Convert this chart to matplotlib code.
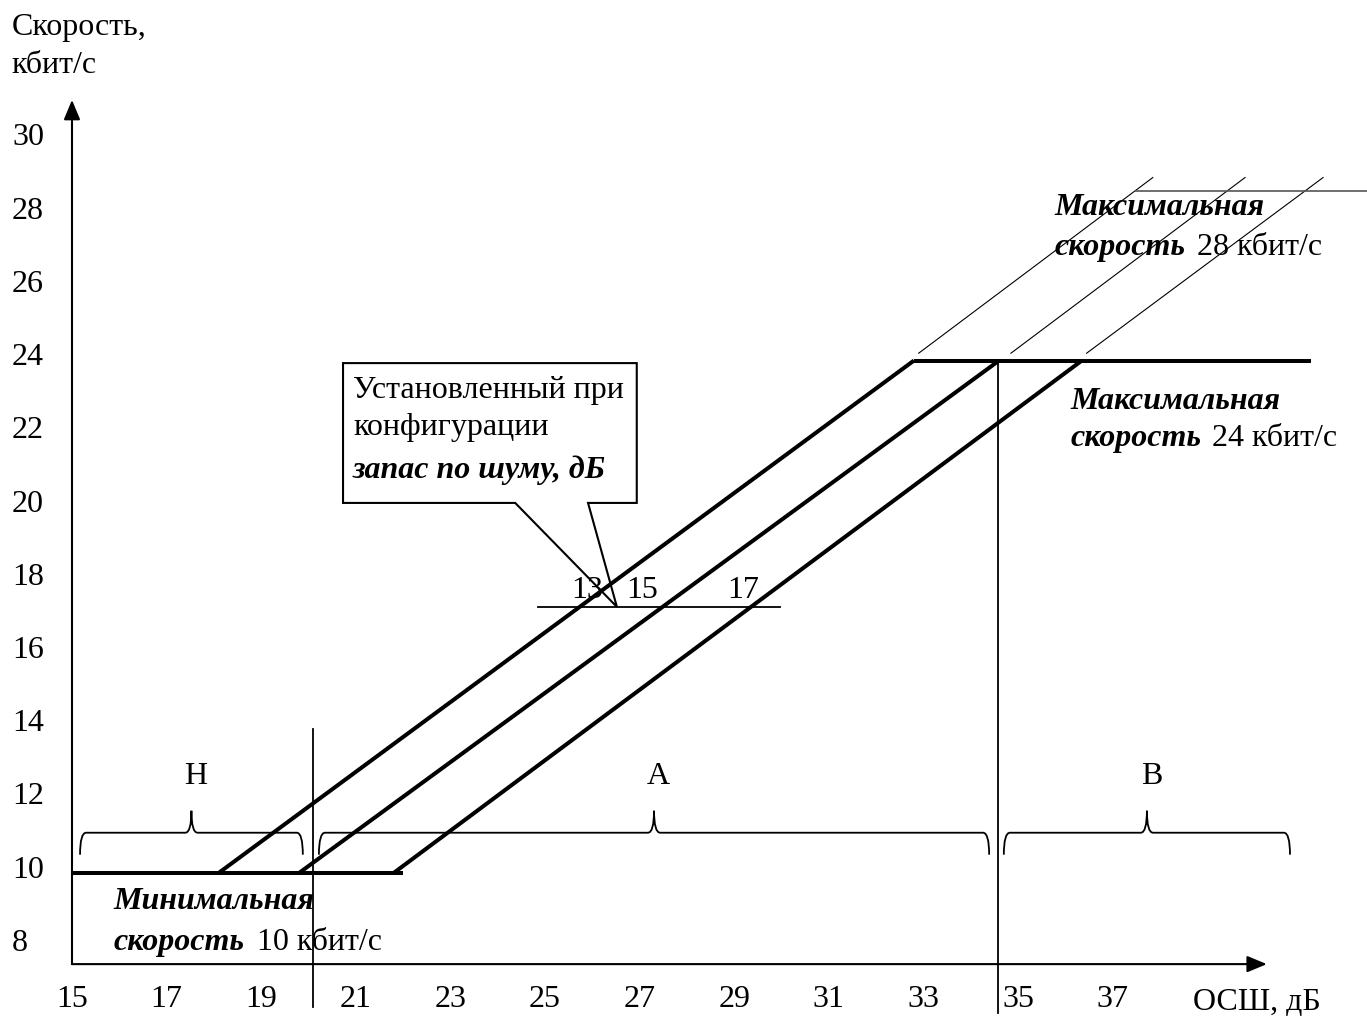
import matplotlib
matplotlib.use('Agg')
import matplotlib.pyplot as plt
from matplotlib.path import Path
from matplotlib.patches import PathPatch, Polygon
from matplotlib.transforms import blended_transform_factory

plt.rcParams['font.family'] = ['Liberation Serif', 'DejaVu Serif']
FS = 23

# axis ticks
snr_ticks = [15, 17, 19, 21, 23, 25, 27, 29, 31, 33, 35, 37]
rate_ticks = [8, 10, 12, 14, 16, 18, 20, 22, 24, 26, 28, 30]

# rate vs SNR for three noise margins
margins = [13, 15, 17]
knee_low = [18.1, 19.8, 21.8]      # SNR where rate starts rising
knee_high = [32.8, 34.6, 36.35]    # SNR where 24 kbit/s is reached
rate_min = 10
rate_max = 24
min_line_x = [15, 22.0]
max_line_x = [32.8, 41.2]

# thin extensions toward 28 kbit/s
ext_x0 = [32.9, 34.85, 36.45]
ext_x1 = [37.85, 39.8, 41.45]
ext_y0 = 24.2
ext_y1 = 29.0
cap_x = [37.5, 42.4]
cap_y = 28.63

# margin marker line
margin_line_x = [24.85, 29.97]
margin_line_y = 17.27
margin_label_x = [25.89, 27.05, 29.19]

# zones
zone_names = ['Н', 'А', 'В']
zone_left = [15.17, 20.22, 34.70]
zone_right = [19.88, 34.39, 40.75]

# callout box
box_x = [20.73, 26.94]
box_y = [20.11, 23.93]
ptr_base = [24.37, 25.91]
ptr_tip = (26.52, 17.27)

fig = plt.figure(figsize=(13.67, 10.21), dpi=100)
ax = fig.add_axes([0, 0, 1, 1])
ax.set_xlim(13.478, 42.378)
ax.set_ylim(5.956, 33.85)
ax.axis('off')

# axes with arrows
arr = dict(arrowstyle='-|>,head_length=0.6,head_width=0.25', lw=1.5, color='k',
           mutation_scale=20, shrinkA=0, shrinkB=0)
ax.annotate('', xy=(15, 31.12), xytext=(15, 7.51), arrowprops=arr)
ax.annotate('', xy=(40.26, 7.51), xytext=(15, 7.51), arrowprops=arr)

tx = blended_transform_factory(ax.transData, ax.transAxes)
ty = blended_transform_factory(ax.transAxes, ax.transData)
for t in snr_ticks:
    ax.text(t, 0.0206, str(t), transform=tx, ha='center', va='center', fontsize=FS)
for t in rate_ticks:
    ax.text(0.0088, t + 0.08, str(t), transform=ty, ha='left', va='center', fontsize=FS)
ax.text(38.7, 6.45, 'ОСШ, дБ', ha='left', va='center', fontsize=FS)
ax.text(13.73, 33.11, 'Скорость,', ha='left', va='center', fontsize=FS)
ax.text(13.73, 32.07, 'кбит/с', ha='left', va='center', fontsize=FS)

# thick curves
ax.plot(min_line_x, [rate_min, rate_min], color='k', lw=2.9, solid_capstyle='butt')
ax.plot(max_line_x, [rate_max, rate_max], color='k', lw=2.9, solid_capstyle='butt')
for lo, hi in zip(knee_low, knee_high):
    ax.plot([lo, hi], [rate_min, rate_max], color='k', lw=2.9, solid_capstyle='butt')

# thin extensions
for a, b in zip(ext_x0, ext_x1):
    ax.plot([a, b], [ext_y0, ext_y1], color='k', lw=0.8)
ax.plot(cap_x, [cap_y, cap_y], color='#555555', lw=1.2)

# vertical boundaries
ax.plot([20.1, 20.1], [6.34, 13.93], color='k', lw=1.3)
ax.plot([34.58, 34.58], [6.17, rate_max], color='k', lw=1.3)

# margin marker
ax.plot(margin_line_x, [margin_line_y, margin_line_y], color='k', lw=1.3)
for m, x in zip(margins, margin_label_x):
    ax.text(x, 17.73, str(m), ha='center', va='center', fontsize=FS)

# callout
poly = [(box_x[0], box_y[1]), (box_x[1], box_y[1]), (box_x[1], box_y[0]),
        (ptr_base[1], box_y[0]), ptr_tip, (ptr_base[0], box_y[0]), (box_x[0], box_y[0])]
ax.add_patch(Polygon(poly, closed=True, fill=False, edgecolor='k', lw=1.5, zorder=3))
ax.text(20.94, 23.19, 'Установленный при', ha='left', va='center', fontsize=FS, zorder=4)
ax.text(20.94, 22.16, 'конфигурации', ha='left', va='center', fontsize=FS, zorder=4)
ax.text(20.94, 21.01, 'запас по шуму, дБ', ha='left', va='center', fontsize=FS,
        weight='bold', style='italic', zorder=4)


def brace(x0, x1, y_tip=10.5, y_flat=11.1, y_spike=11.7, r=0.13):
    xm = (x0 + x1) / 2
    verts = [(x0, y_tip), (x0, y_flat), (x0 + r, y_flat),
             (xm - r, y_flat), (xm, y_flat), (xm, y_spike),
             (xm, y_flat), (xm + r, y_flat),
             (x1 - r, y_flat), (x1, y_flat), (x1, y_tip)]
    codes = [Path.MOVETO, Path.CURVE3, Path.CURVE3,
             Path.LINETO, Path.CURVE3, Path.CURVE3,
             Path.CURVE3, Path.CURVE3,
             Path.LINETO, Path.CURVE3, Path.CURVE3]
    ax.add_patch(PathPatch(Path(verts, codes), fill=False, lw=1.3, color='k'))


for name, a, b in zip(zone_names, zone_left, zone_right):
    brace(a, b)
    ax.text((a + b) / 2 + 0.1, 12.63, name, ha='center', va='center', fontsize=FS)

# annotations
bi = dict(weight='bold', style='italic', fontsize=FS, ha='left', va='center')
ax.text(35.78, 28.17, 'Максимальная', **bi)
ax.text(35.78, 27.10, 'скорость', **bi)
ax.text(38.78, 27.10, '28 кбит/с', ha='left', va='center', fontsize=FS)
ax.text(36.1, 22.87, 'Максимальная', **bi)
ax.text(36.1, 21.88, 'скорость', **bi)
ax.text(39.10, 21.88, '24 кбит/с', ha='left', va='center', fontsize=FS)
ax.text(15.87, 9.21, 'Минимальная', **bi)
ax.text(15.87, 8.09, 'скорость', **bi)
ax.text(18.91, 8.09, '10 кбит/с', ha='left', va='center', fontsize=FS)

fig.savefig('out.png', dpi=100)
